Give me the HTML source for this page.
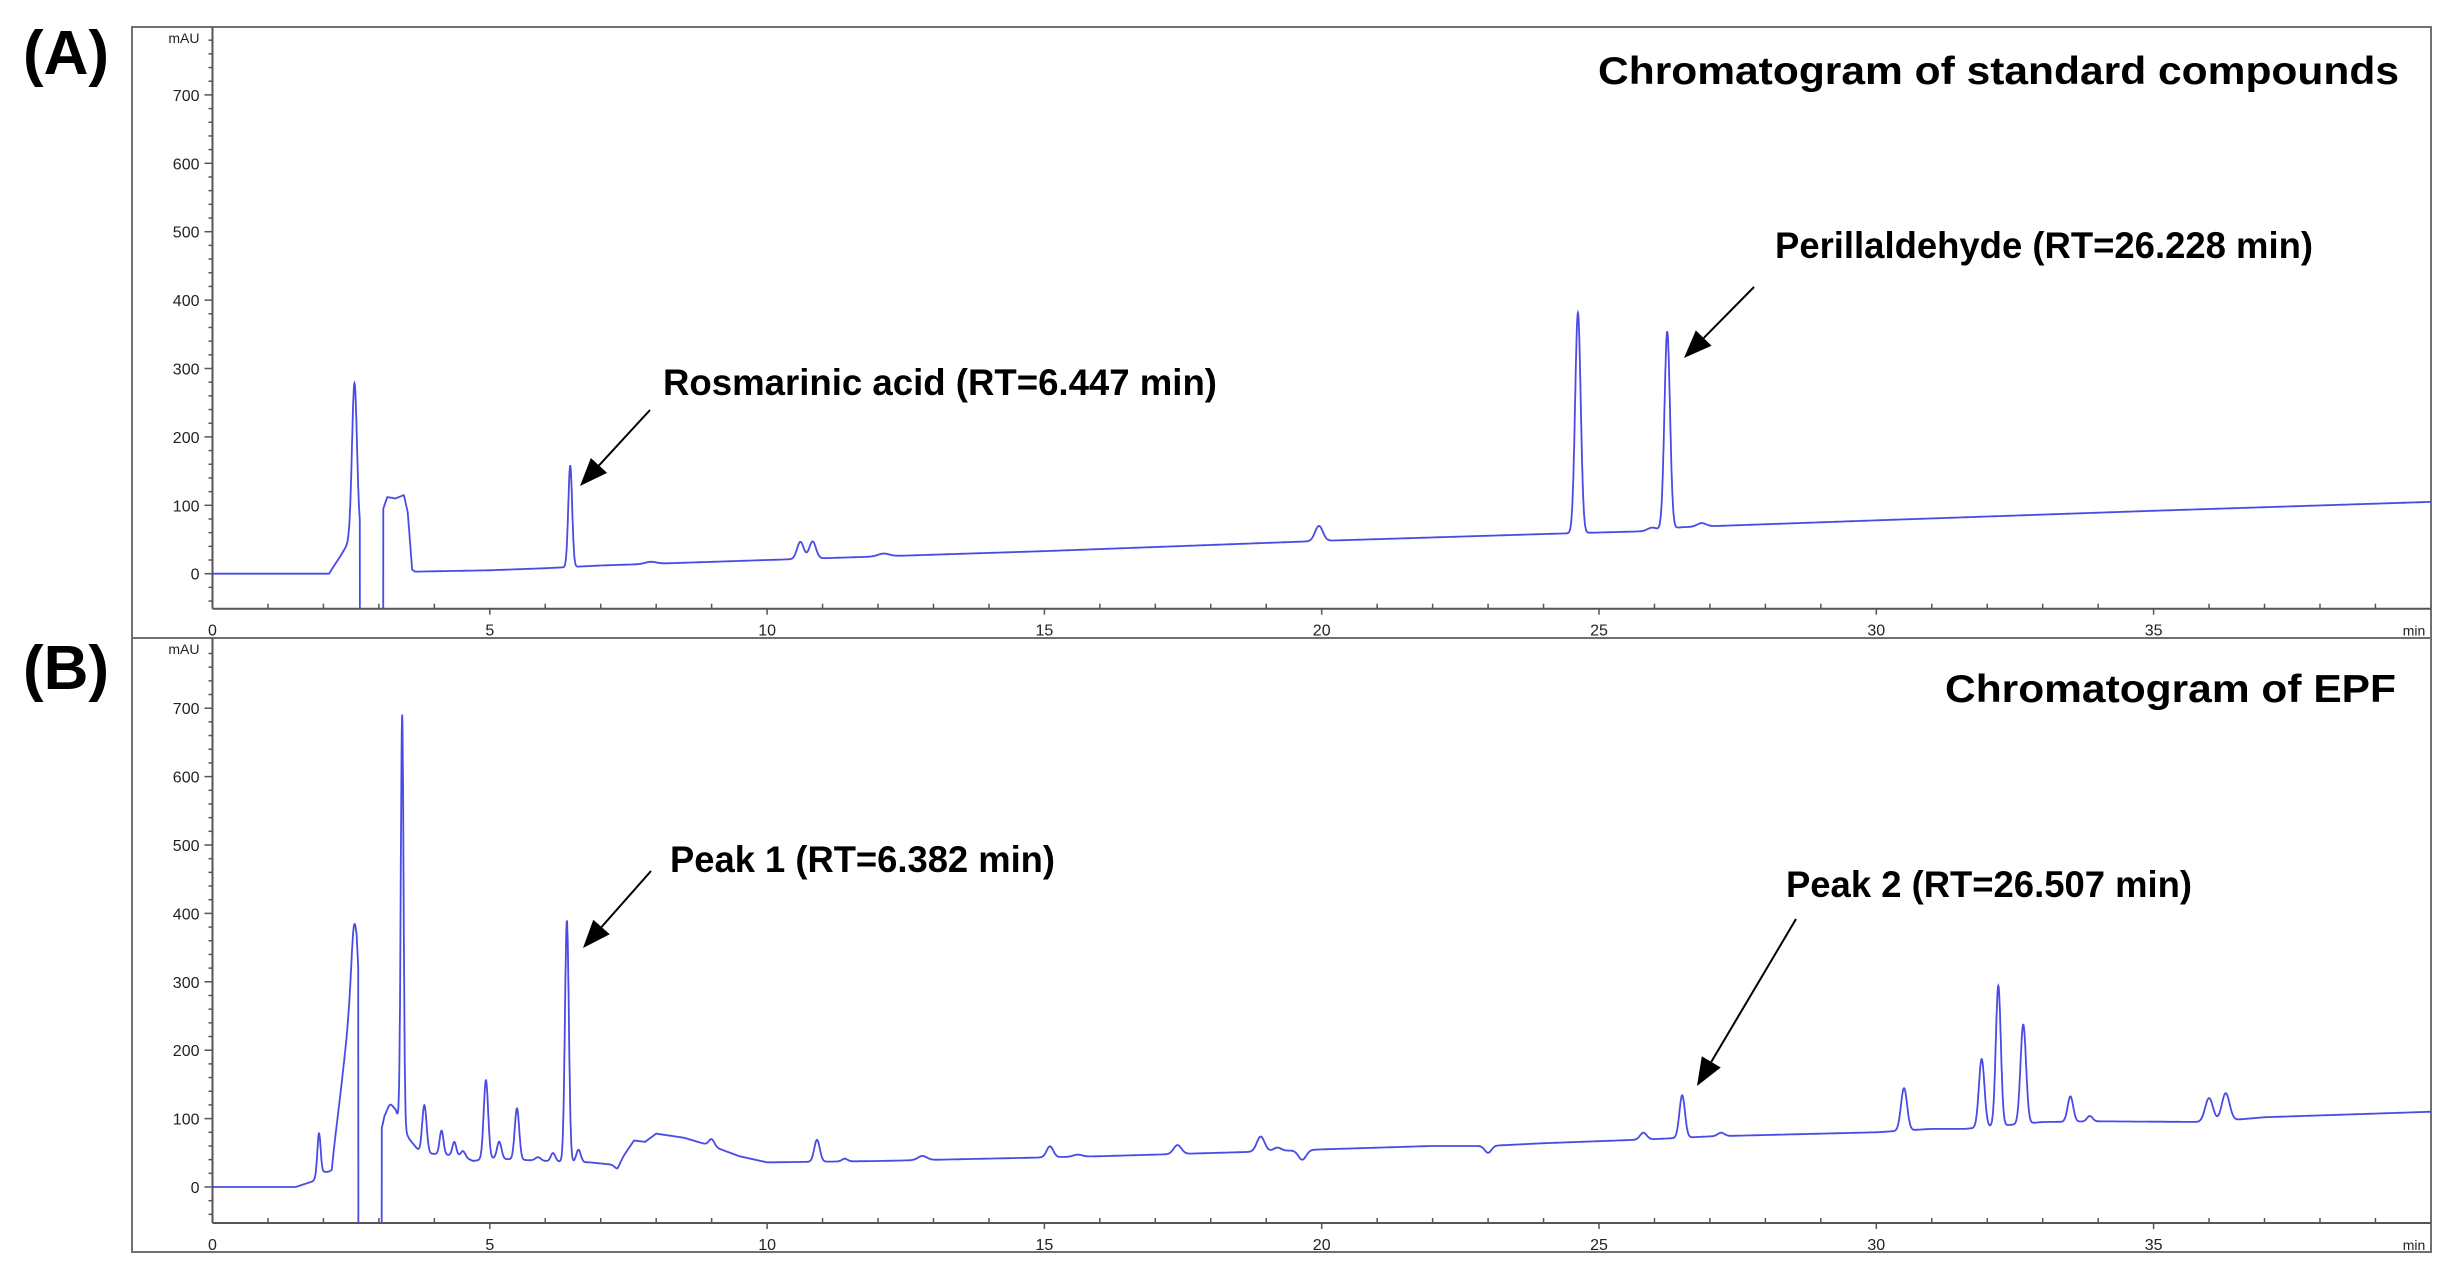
<!DOCTYPE html>
<html><head><meta charset="utf-8">
<style>
html,body{margin:0;padding:0;background:#fff;width:2457px;height:1286px;overflow:hidden;}
svg{display:block;}
text{font-family:"Liberation Sans",Arial,sans-serif;}
</style></head>
<body>
<svg id="s" width="2457" height="1286" viewBox="0 0 2457 1286" xmlns="http://www.w3.org/2000/svg">
<defs>
<clipPath id="cA"><rect x="212.5" y="27" width="2220" height="581.7"/></clipPath>
<clipPath id="cB"><rect x="212.5" y="638" width="2220" height="584.7"/></clipPath>
</defs>
<g id="frames" fill="none" stroke="#707070" stroke-width="2">
<rect x="132" y="27" width="2299" height="611"/>
<rect x="132" y="638" width="2299" height="614"/>
</g>
<g id="axes"></g>
<path id="pA" fill="none" stroke="#4a4ae6" stroke-width="1.8" clip-path="url(#cA)"/>
<path id="pB" fill="none" stroke="#4a4ae6" stroke-width="1.8" clip-path="url(#cB)"/>
<text x="23" y="74" font-size="62" font-weight="bold">(A)</text>
<text x="23" y="689" font-size="62" font-weight="bold">(B)</text>
<text x="1598" y="84" font-size="39" font-weight="bold" textLength="801" lengthAdjust="spacingAndGlyphs">Chromatogram of standard compounds</text>
<text x="1945" y="702" font-size="39" font-weight="bold" textLength="451" lengthAdjust="spacingAndGlyphs">Chromatogram of EPF</text>
<text x="663" y="395" font-size="37" font-weight="bold" textLength="554" lengthAdjust="spacingAndGlyphs">Rosmarinic acid (RT=6.447 min)</text>
<text x="1775" y="258" font-size="37" font-weight="bold" textLength="538" lengthAdjust="spacingAndGlyphs">Perillaldehyde (RT=26.228 min)</text>
<text x="670" y="872" font-size="37" font-weight="bold" textLength="385" lengthAdjust="spacingAndGlyphs">Peak 1 (RT=6.382 min)</text>
<text x="1786" y="897" font-size="37" font-weight="bold" textLength="406" lengthAdjust="spacingAndGlyphs">Peak 2 (RT=26.507 min)</text>
<g id="arrows" stroke="#000" stroke-width="2" fill="#000"></g>
</svg>
<script>
(function(){
var NS="http://www.w3.org/2000/svg";
var X0=212.5,KX=55.46;
function X(t){return X0+t*KX;}
function el(tag,attrs,parent,txt){var e=document.createElementNS(NS,tag);for(var k in attrs)e.setAttribute(k,attrs[k]);if(txt!=null)e.textContent=txt;parent.appendChild(e);return e;}
var ax=document.getElementById('axes');
function axes(y0,top,bot,fs){
  var ky=0.684;
  el('line',{x1:X0,y1:top,x2:X0,y2:bot,stroke:'#555','stroke-width':2},ax);
  el('line',{x1:X0,y1:bot,x2:2431,y2:bot,stroke:'#555','stroke-width':2},ax);
  for(var v=-40;v<=780;v+=20){
    var y=y0-v*ky; if(y<top+6)continue;
    var major=(v%100==0)&&v>=0&&v<=700;
    el('line',{x1:major?X0-8:X0-4,y1:y,x2:X0,y2:y,stroke:'#555','stroke-width':1.5},ax);
    if(major) el('text',{x:X0-13,y:y+6,'font-size':fs,'text-anchor':'end',fill:'#222'},ax,String(v));
  }
  el('text',{x:X0-13,y:top+16,'font-size':14,'text-anchor':'end',fill:'#222'},ax,'mAU');
  for(var t=1;t<40;t++){
    var x=X(t);var maj=t%5==0;
    el('line',{x1:x,y1:bot,x2:x,y2:bot-(maj?0:5),stroke:'#555','stroke-width':1.5},ax);
    if(maj){el('line',{x1:x,y1:bot,x2:x,y2:bot+6,stroke:'#555','stroke-width':1.5},ax);}
  }
  for(var t=0;t<40;t+=5){
    el('text',{x:X(t),y:bot+27,'font-size':fs,'text-anchor':'middle',fill:'#222'},ax,String(t));
  }
  el('text',{x:2414,y:bot+27,'font-size':14,'text-anchor':'middle',fill:'#222'},ax,'min');
}
axes(573.7,27,608.7,16);
axes(1187,638,1223,16);

function interp(pts,t){
  if(t<=pts[0][0])return pts[0][1];
  for(var i=1;i<pts.length;i++){if(t<=pts[i][0]){var a=pts[i-1],b=pts[i];return a[1]+(b[1]-a[1])*(t-a[0])/(b[0]-a[0]);}}
  return pts[pts.length-1][1];
}
function build(base,peaks,dip,y0,id){
  var d='';var ky=0.684;
  for(var t=0;t<=40.0001;t+=0.004){
    var v=interp(base,t);
    for(var i=0;i<peaks.length;i++){var p=peaks[i];var z=(t-p[0])/p[2];if(Math.abs(z)<6)v+=p[1]*Math.exp(-0.5*z*z);}
    if(t>dip[0]&&t<dip[1])v=-300;
    var y=y0-v*ky;
    d+=(d?'L':'M')+X(t).toFixed(1)+' '+y.toFixed(1);
  }
  document.getElementById(id).setAttribute('d',d);
}
var baseA=[[0,0],[2.1,0],[2.3,25],[2.45,45],[2.6,50],[3.08,95],[3.15,112],[3.3,110],[3.45,115],[3.52,90],[3.6,6],[3.65,3],[5,5],[6,8],[7,12],[10,20],[15,33],[20,48],[24,58],[25.8,62],[26.5,68],[30,78],[35,92],[40,105]];
var peaksA=[[2.56,230,0.045],[6.45,148,0.035],[7.9,3,0.1],[10.6,25,0.06],[10.82,25,0.06],[12.1,4,0.1],[19.95,22,0.07],[24.62,322,0.05],[26.23,288,0.05],[25.95,4,0.08],[26.85,5,0.08]];
build(baseA,peaksA,[2.66,3.08],573.7,'pA');
var baseB=[[0,0],[1.5,0],[1.8,8],[2.0,22],[2.15,22],[2.45,240],[2.6,310],[3.0,70],[3.1,100],[3.3,110],[3.55,70],[3.75,50],[4.5,45],[4.7,38],[5,42],[6.0,38],[6.8,36],[7.3,32],[7.6,68],[7.8,66],[8.0,78],[8.5,72],[9,60],[9.5,45],[10,36],[12,38],[16,45],[19,52],[20,55],[22,60],[23,60],[24,64],[26,70],[27,74],[29,78],[30,80],[31,85],[31.6,85],[33,95],[34,96],[36,95],[37,102],[40,110]];
var peaksB=[[1.92,62,0.03],[2.2,5,0.05],[2.55,95,0.05],[3.2,15,0.06],[3.42,600,0.025],[3.82,70,0.04],[4.13,35,0.035],[4.36,20,0.035],[4.52,8,0.04],[4.93,115,0.04],[5.17,25,0.04],[5.49,75,0.04],[5.87,5,0.05],[6.14,12,0.04],[6.39,352,0.035],[6.6,18,0.04],[7.3,-5,0.05],[9.0,10,0.05],[10.9,32,0.05],[11.4,4,0.05],[12.8,6,0.08],[15.1,16,0.06],[15.6,3,0.08],[17.4,13,0.07],[18.9,22,0.07],[19.2,5,0.07],[19.65,-14,0.07],[23.0,-10,0.06],[25.8,10,0.06],[26.5,62,0.05],[27.2,5,0.06],[30.5,62,0.055],[31.9,100,0.05],[32.2,205,0.045],[32.65,145,0.05],[33.5,37,0.05],[33.85,8,0.05],[36.0,35,0.07],[36.3,40,0.07]];
build(baseB,peaksB,[2.63,3.05],1187,'pB');

var ar=document.getElementById('arrows');
function arrow(x1,y1,x2,y2){
  var dx=x2-x1,dy=y2-y1,L=Math.sqrt(dx*dx+dy*dy),ux=dx/L,uy=dy/L;
  var hl=28,hw=11;
  var bx=x2-ux*hl,by=y2-uy*hl;
  el('line',{x1:x1,y1:y1,x2:bx,y2:by},ar);
  el('polygon',{points:x2+','+y2+' '+(bx-uy*hw)+','+(by+ux*hw)+' '+(bx+uy*hw)+','+(by-ux*hw),stroke:'none'},ar);
}
arrow(650,410,580,486);
arrow(1754,287,1684,358);
arrow(651,871,583,948);
arrow(1796,919,1697,1086);
})();
</script>
</body></html>
